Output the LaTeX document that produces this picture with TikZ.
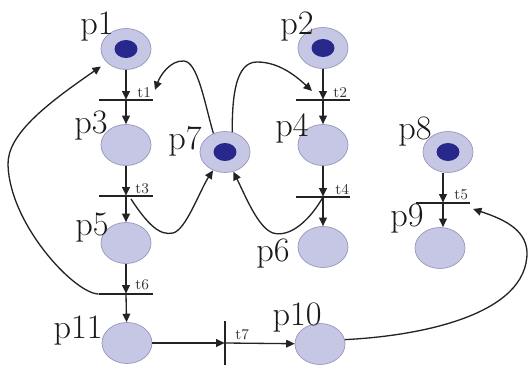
\documentclass[tikz,border=0pt]{standalone}
\usepackage{fontspec}
\usepackage{tikz}
\usetikzlibrary{arrows.meta, shapes.geometric}

\definecolor{placefill}{RGB}{198,198,229}
\definecolor{placeedge}{RGB}{150,150,190}
\definecolor{tokenblue}{RGB}{40,40,140}
\definecolor{arcgray}{RGB}{35,35,35}

\begin{document}
\begin{tikzpicture}[x=0.02cm, y=-0.02cm, >={Triangle[length=4.8pt, width=4.4pt]},
  place/.style={ellipse, draw=placeedge, line width=0.4pt, fill=placefill,
    minimum width=1cm, minimum height=0.82cm, inner sep=0pt},
  marked/.style={path picture={\fill[tokenblue] (path picture bounding box.center) ellipse (0.23cm and 0.18cm);}},
  trans/.style={inner sep=0pt, minimum width=1.08cm, minimum height=0pt},
  vtrans/.style={inner sep=0pt, minimum width=0pt, minimum height=0.86cm},
  bar/.style={draw=arcgray, line width=0.8pt},
  arc/.style={draw=arcgray, line width=0.75pt, ->},
  plbl/.style={inner sep=0pt, text=black!90, font=\fontsize{19.5}{19.5}\selectfont},
  tlbl/.style={inner sep=0pt, anchor=base west, text=black!80, font=\fontsize{8.5}{8.5}\selectfont}]
  \useasboundingbox (0,0) rectangle (529,368);

  % Các vị trí (places)
  \node[place, marked] (p1) at (126,49) {};
  \node[place, marked] (p2) at (323,48) {};
  \node[place] (p3) at (126,145) {};
  \node[place] (p4) at (323,145) {};
  \node[place] (p5) at (126,243) {};
  \node[place] (p6) at (323,247) {};
  \node[place, marked] (p7) at (225,152) {};
  \node[place, marked] (p8) at (448,152) {};
  \node[place] (p9) at (440,248) {};
  \node[place] (p10) at (320,344) {};
  \node[place] (p11) at (127,343) {};

  % Các chuyển tiếp (transitions)
  \node[trans] (t1) at (126,100) {};
  \node[trans] (t2) at (323,100) {};
  \node[trans] (t3) at (126,196) {};
  \node[trans] (t4) at (323,197) {};
  \node[trans] (t5) at (443,203) {};
  \node[trans] (t6) at (126,294) {};
  \node[vtrans] (t7) at (225,343) {};
  \foreach \t in {t1,t2,t3,t4,t5,t6}
    \draw[bar] (\t.west) -- (\t.east);
  \draw[bar] (t7.north) -- (t7.south);

  % Đầu mút tự do
  \coordinate (t1r) at (155,90);
  \coordinate (t2l) at (312,91);
  \coordinate (t3r) at (131,199);
  \coordinate (t5r) at (473,209);

  % Cung thẳng
  \draw[arc] (p1) -- (t1);
  \draw[arc] (t1) -- (p3);
  \draw[arc] (p3) -- (t3);
  \draw[arc] (t3) -- (p5);
  \draw[arc] (p5) -- (t6);
  \draw[arc] (t6) -- (p11);
  \draw[arc] (p2) -- (t2);
  \draw[arc] (t2) -- (p4);
  \draw[arc] (p4) -- (t4);
  \draw[arc] (t4) -- (p6);
  \draw[arc] (t5 |- p8.south) -- (t5);
  \draw[arc] (t5) -- (t5 |- p9.north);
  \draw[arc] (p11) -- (t7);
  \draw[arc] (t7) -- (p10);

  % Cung cong
  \draw[arc] (p7.122) .. controls (205,105) and (198,62) .. (184,61)
    .. controls (170,60) and (160,76) .. (t1r);
  \draw[arc] (p7.70) .. controls (232,95) and (236,62) .. (257,62)
    .. controls (278,62) and (295,75) .. (t2l);
  \draw[arc] (t3r) .. controls (148,225) and (160,236) .. (173,233)
    .. controls (186,230) and (200,190) .. (p7.237);
  \draw[arc] (t4) .. controls (310,220) and (290,238) .. (273,233)
    .. controls (258,228) and (245,195) .. (p7.293);
  \draw[arc, shorten >=4pt] (t6.west) .. controls (75,294) and (10,225) .. (8,165)
    .. controls (7,135) and (45,105) .. (p1.215);
  \draw[arc] (p10.10) .. controls (420,336) and (528,315) .. (527,252)
    .. controls (526,228) and (500,218) .. (t5r);

  % Nhãn
  \node[plbl] (l1) at (97,27) {p1};
  \node[plbl] (l2) at (297,27) {p2};
  \node[plbl] (l3) at (91,126) {p3};
  \node[plbl] (l4) at (292,128) {p4};
  \node[plbl] (l5) at (92,228) {p5};
  \node[plbl] (l6) at (273,254) {p6};
  \node[plbl] (l7) at (185,141) {p7};
  \node[plbl] (l8) at (415,132) {p8};
  \node[plbl] (l9) at (407,219) {p9};
  \node[plbl] (l10) at (297,318) {p10};
  \node[plbl] (l11) at (78,331) {p11};
  \node[tlbl] (lt1) at (137,98) {t1};
  \node[tlbl] (lt2) at (333,98) {t2};
  \node[tlbl] (lt3) at (135,194) {t3};
  \node[tlbl] (lt4) at (335,195) {t4};
  \node[tlbl] (lt5) at (454,200) {t5};
  \node[tlbl] (lt6) at (135,290) {t6};
  \node[tlbl] (lt7) at (235,340) {t7};
\end{tikzpicture}
\end{document}
